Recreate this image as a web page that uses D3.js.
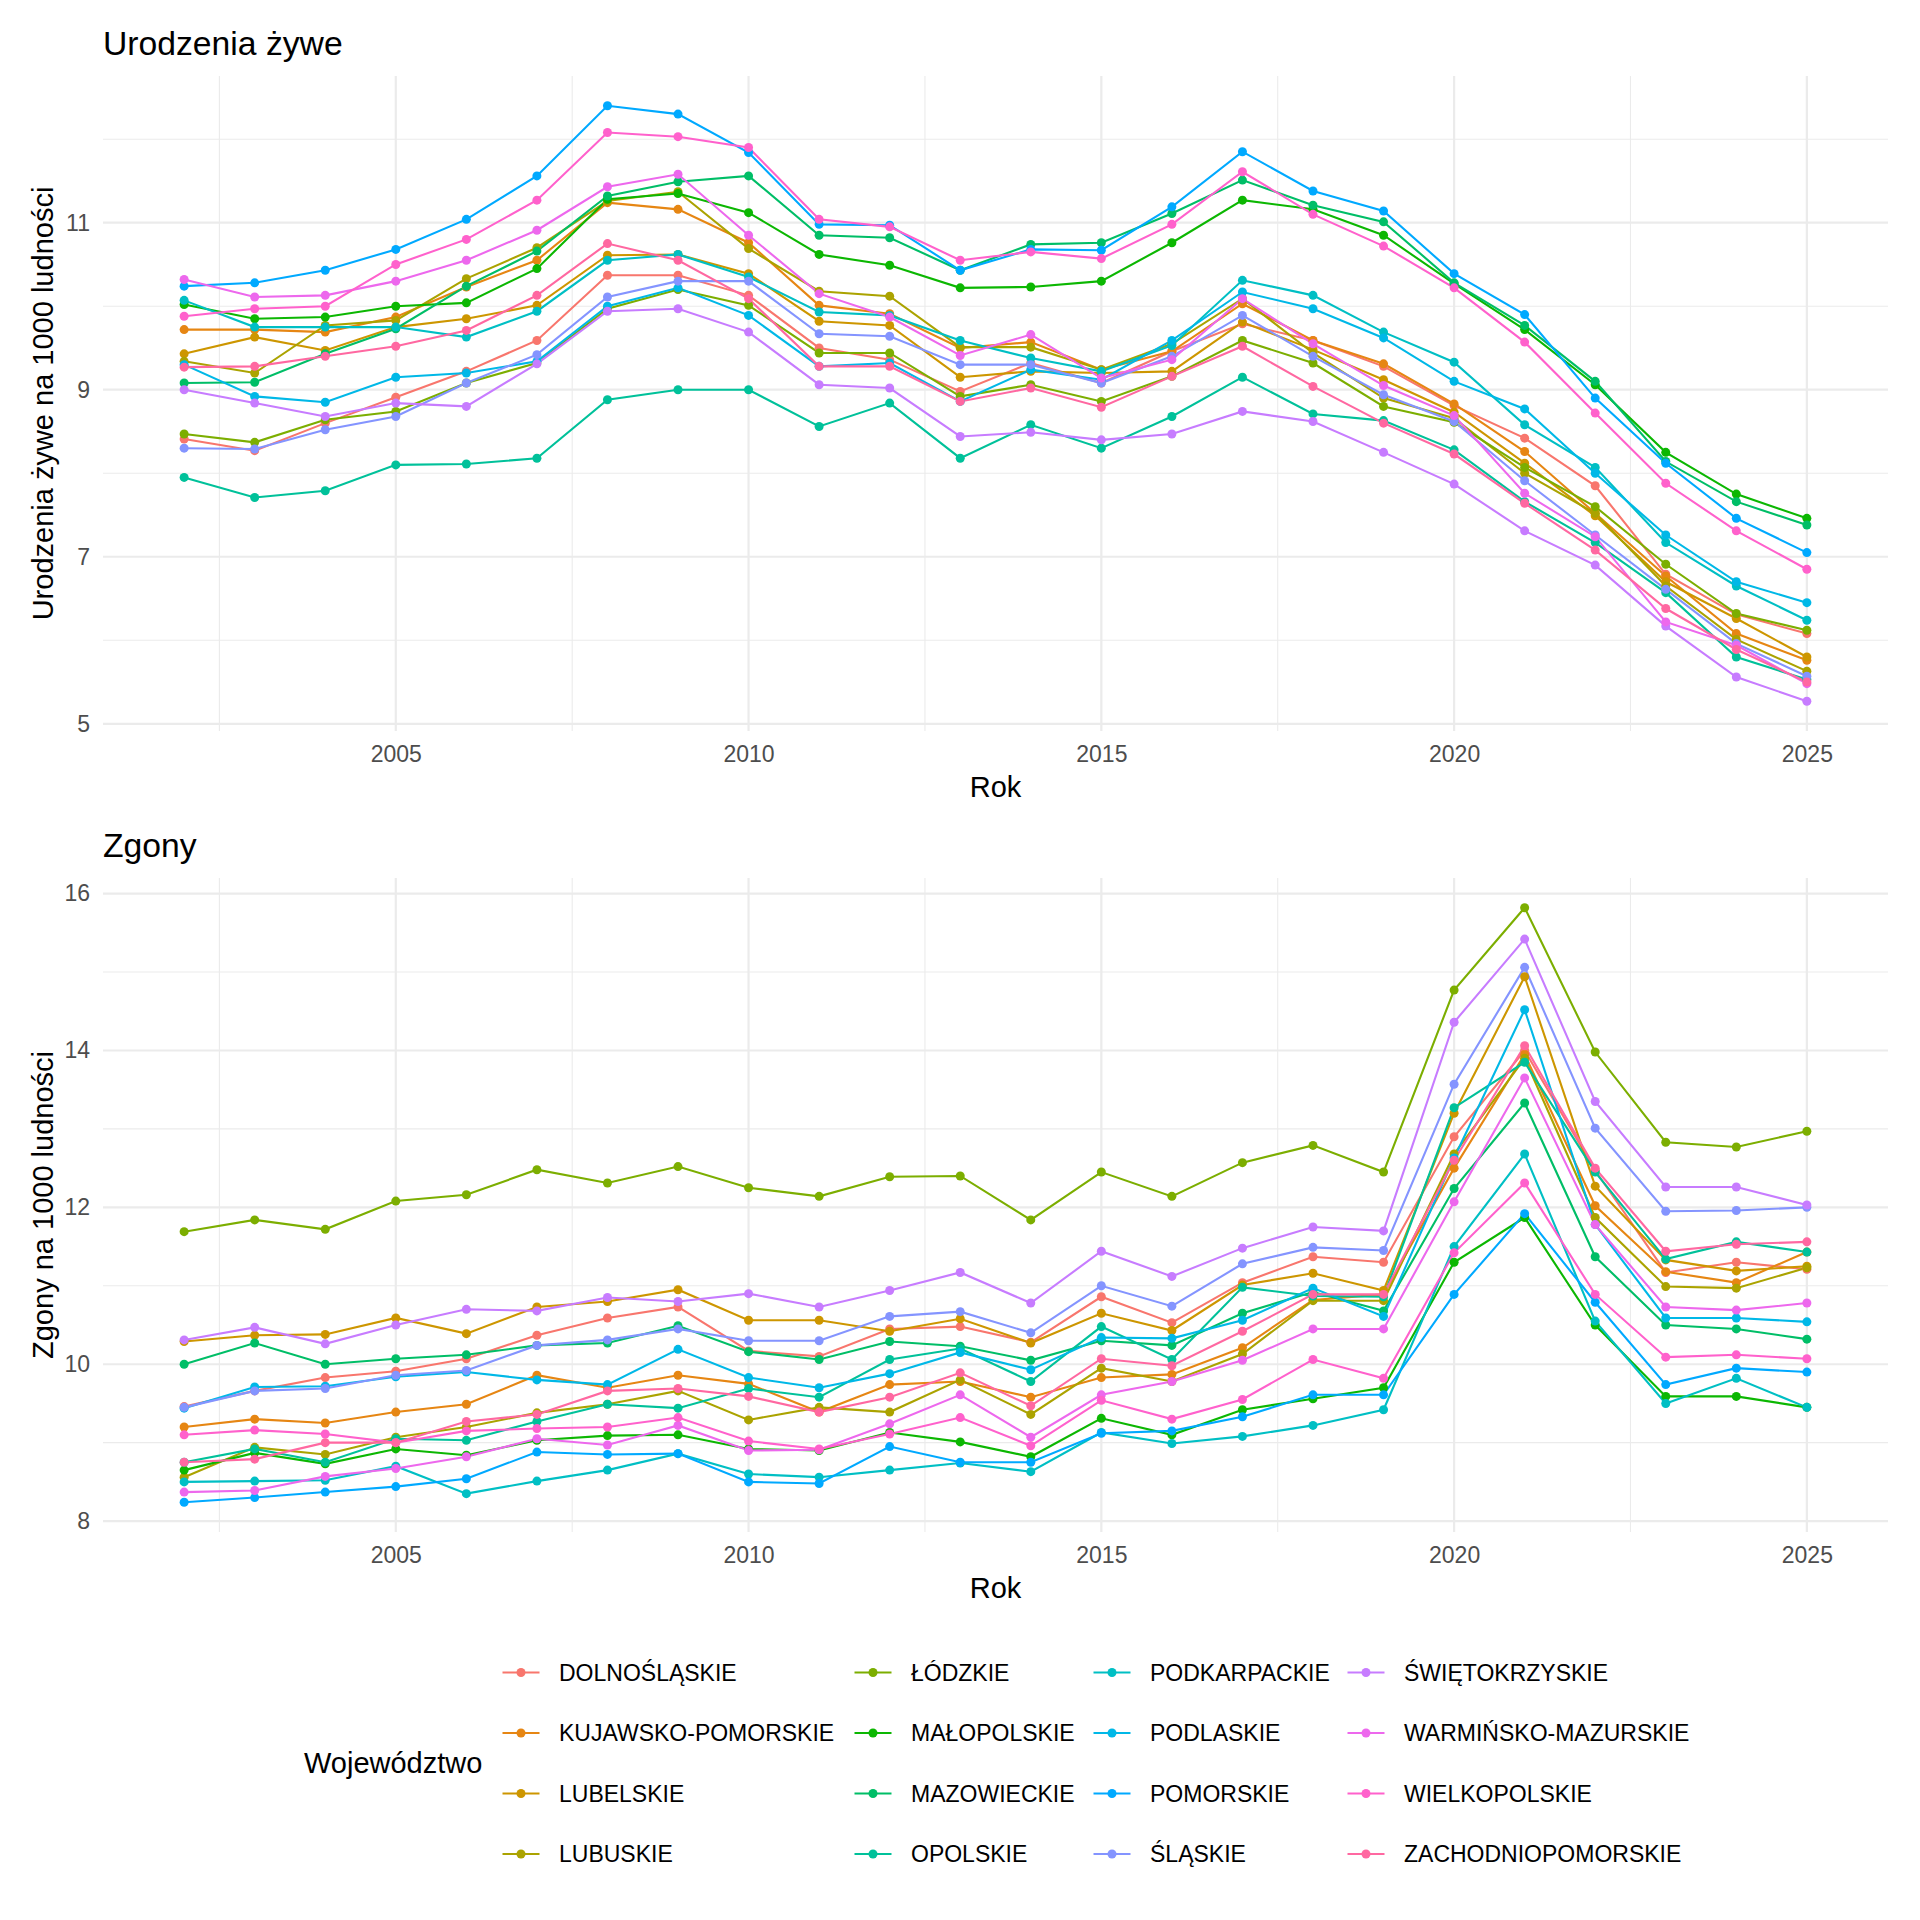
<!DOCTYPE html>
<html>
<head>
<meta charset="utf-8">
<script src="https://cdn.jsdelivr.net/npm/d3@7"></script>
<style>
  body { margin: 0; background: #fff; }
  svg { display: block; font-family: "Liberation Sans", Arial, sans-serif; }
</style>
</head>
<body>
<svg id="chart" width="1920" height="1920"></svg>
<script>
// ---- data ----
const years = [2002, 2003, 2004, 2005, 2006, 2007, 2008, 2009, 2010, 2011, 2012, 2013,
               2014, 2015, 2016, 2017, 2018, 2019, 2020, 2021, 2022, 2023, 2024, 2025];

const regions = ["DOLNOŚLĄSKIE", "KUJAWSKO-POMORSKIE", "LUBELSKIE", "LUBUSKIE", "ŁÓDZKIE",
  "MAŁOPOLSKIE", "MAZOWIECKIE", "OPOLSKIE", "PODKARPACKIE", "PODLASKIE", "POMORSKIE",
  "ŚLĄSKIE", "ŚWIĘTOKRZYSKIE", "WARMIŃSKO-MAZURSKIE", "WIELKOPOLSKIE", "ZACHODNIOPOMORSKIE"];

// urodzenia żywe na 1000 ludności
const bDolnoslaskie = [8.41, 8.27, 8.60, 8.91, 9.22, 9.59, 10.37, 10.37, 10.13, 9.50, 9.36, 8.98, 9.32, 9.08, 9.46, 9.79, 9.59, 9.28, 8.81, 8.42, 7.85, 6.79, 6.31, 6.08];
const bKujawsko     = [9.72, 9.72, 9.69, 9.87, 10.23, 10.55, 11.24, 11.16, 10.76, 10.01, 9.91, 9.50, 9.57, 9.24, 9.46, 10.03, 9.59, 9.31, 8.83, 8.26, 7.52, 6.77, 6.08, 5.76];
const bLubelskie    = [9.43, 9.63, 9.47, 9.75, 9.85, 10.01, 10.61, 10.62, 10.39, 9.82, 9.77, 9.15, 9.22, 9.20, 9.22, 9.81, 9.48, 9.12, 8.73, 8.12, 7.49, 6.70, 6.26, 5.80];
const bLubuskie     = [9.34, 9.20, 9.77, 9.83, 10.33, 10.70, 11.26, 11.37, 10.69, 10.18, 10.12, 9.51, 9.51, 9.24, 9.55, 10.09, 9.44, 8.90, 8.66, 8.00, 7.52, 6.65, 6.01, 5.63];
const bLodzkie      = [8.47, 8.37, 8.64, 8.74, 9.08, 9.32, 9.97, 10.20, 10.01, 9.44, 9.44, 8.92, 9.06, 8.86, 9.16, 9.59, 9.32, 8.80, 8.61, 8.07, 7.60, 6.91, 6.32, 6.12];
const bMalopolskie  = [10.02, 9.85, 9.87, 10.00, 10.04, 10.45, 11.28, 11.35, 11.12, 10.62, 10.49, 10.22, 10.23, 10.30, 10.76, 11.27, 11.16, 10.85, 10.27, 9.72, 9.06, 8.25, 7.75, 7.46];
const bMazowieckie  = [9.08, 9.09, 9.43, 9.73, 10.24, 10.66, 11.32, 11.49, 11.56, 10.85, 10.82, 10.43, 10.74, 10.76, 11.11, 11.51, 11.21, 11.01, 10.28, 9.77, 9.10, 8.14, 7.66, 7.38];
const bOpolskie     = [7.95, 7.71, 7.79, 8.10, 8.11, 8.18, 8.88, 9.00, 9.00, 8.56, 8.84, 8.18, 8.58, 8.30, 8.68, 9.15, 8.71, 8.63, 8.28, 7.66, 7.17, 6.57, 5.80, 5.53];
const bPodkarpackie = [10.07, 9.75, 9.75, 9.75, 9.63, 9.94, 10.55, 10.62, 10.35, 9.93, 9.89, 9.59, 9.38, 9.22, 9.53, 10.31, 10.13, 9.69, 9.33, 8.58, 8.07, 7.17, 6.65, 6.24];
const bPodlaskie    = [9.30, 8.92, 8.85, 9.15, 9.20, 9.34, 10.00, 10.22, 9.89, 9.28, 9.32, 8.86, 9.24, 9.12, 9.59, 10.17, 9.97, 9.62, 9.10, 8.77, 8.00, 7.26, 6.70, 6.45];
const bPomorskie    = [10.24, 10.28, 10.43, 10.68, 11.04, 11.56, 12.40, 12.30, 11.84, 10.98, 10.97, 10.43, 10.68, 10.67, 11.19, 11.85, 11.38, 11.14, 10.39, 9.90, 8.90, 8.12, 7.46, 7.05];
const bSlaskie      = [8.30, 8.29, 8.52, 8.68, 9.08, 9.42, 10.11, 10.30, 10.30, 9.67, 9.64, 9.30, 9.30, 9.08, 9.40, 9.89, 9.40, 8.94, 8.62, 7.91, 7.26, 6.61, 5.96, 5.57];
const bSwietokrz    = [9.00, 8.84, 8.68, 8.84, 8.80, 9.31, 9.94, 9.97, 9.69, 9.06, 9.02, 8.44, 8.49, 8.40, 8.47, 8.74, 8.62, 8.25, 7.87, 7.31, 6.90, 6.17, 5.56, 5.27];
const bWarminsko    = [10.32, 10.11, 10.13, 10.30, 10.55, 10.91, 11.43, 11.58, 10.85, 10.15, 9.87, 9.41, 9.66, 9.14, 9.36, 10.09, 9.55, 9.05, 8.69, 7.76, 7.24, 6.22, 5.94, 5.48];
const bWielkopol    = [9.88, 9.97, 10.00, 10.50, 10.80, 11.27, 12.08, 12.03, 11.90, 11.04, 10.95, 10.55, 10.65, 10.57, 10.98, 11.61, 11.10, 10.72, 10.22, 9.57, 8.72, 7.88, 7.31, 6.85];
const bZachodnio    = [9.27, 9.28, 9.40, 9.52, 9.71, 10.13, 10.75, 10.55, 10.09, 9.28, 9.28, 8.86, 9.02, 8.79, 9.16, 9.52, 9.04, 8.60, 8.23, 7.64, 7.08, 6.38, 5.89, 5.50];

// zgony na 1000 ludności
const dDolnoslaskie = [9.46, 9.66, 9.83, 9.91, 10.07, 10.37, 10.59, 10.73, 10.17, 10.10, 10.45, 10.48, 10.28, 10.86, 10.53, 11.04, 11.37, 11.30, 12.90, 14.00, 12.47, 11.17, 11.30, 11.21];
const dKujawsko     = [9.20, 9.30, 9.25, 9.39, 9.49, 9.86, 9.70, 9.86, 9.75, 9.39, 9.74, 9.78, 9.58, 9.83, 9.87, 10.21, 10.82, 10.89, 12.50, 13.95, 12.02, 11.18, 11.04, 11.43];
const dLubelskie    = [10.29, 10.37, 10.38, 10.59, 10.39, 10.73, 10.80, 10.95, 10.56, 10.56, 10.42, 10.58, 10.27, 10.65, 10.43, 11.01, 11.16, 10.94, 13.20, 14.94, 12.27, 11.33, 11.19, 11.25];
const dLubuskie     = [8.56, 8.94, 8.85, 9.07, 9.20, 9.38, 9.49, 9.66, 9.29, 9.45, 9.39, 9.80, 9.36, 9.95, 9.78, 10.13, 10.81, 10.81, 12.68, 13.90, 11.87, 10.99, 10.97, 11.23];
const dLodzkie      = [11.69, 11.84, 11.72, 12.08, 12.16, 12.48, 12.31, 12.52, 12.25, 12.14, 12.39, 12.40, 11.84, 12.45, 12.14, 12.57, 12.79, 12.45, 14.77, 15.82, 13.98, 12.83, 12.77, 12.97];
const dMalopolskie  = [8.65, 8.87, 8.73, 8.92, 8.84, 9.03, 9.09, 9.10, 8.92, 8.90, 9.13, 9.01, 8.82, 9.31, 9.10, 9.42, 9.56, 9.70, 11.30, 11.87, 10.50, 9.59, 9.59, 9.45];
const dMazowieckie  = [10.00, 10.27, 10.00, 10.07, 10.12, 10.24, 10.27, 10.49, 10.16, 10.06, 10.29, 10.23, 10.05, 10.30, 10.24, 10.65, 10.92, 10.68, 12.24, 13.33, 11.37, 10.50, 10.45, 10.32];
const dOpolskie     = [8.75, 8.92, 8.75, 9.05, 9.03, 9.27, 9.49, 9.44, 9.69, 9.58, 10.06, 10.20, 9.78, 10.48, 10.06, 10.98, 10.87, 10.86, 13.27, 13.85, 12.45, 11.34, 11.56, 11.43];
const dPodkarpackie = [8.50, 8.51, 8.52, 8.70, 8.35, 8.51, 8.65, 8.86, 8.60, 8.56, 8.65, 8.74, 8.63, 9.13, 8.99, 9.08, 9.22, 9.42, 11.50, 12.68, 10.55, 9.50, 9.82, 9.45];
const dPodlaskie    = [9.44, 9.71, 9.72, 9.84, 9.90, 9.80, 9.74, 10.19, 9.83, 9.70, 9.88, 10.15, 9.93, 10.34, 10.33, 10.56, 10.97, 10.61, 12.63, 14.52, 11.78, 10.59, 10.59, 10.54];
const dPomorskie    = [8.24, 8.30, 8.37, 8.44, 8.54, 8.88, 8.85, 8.86, 8.50, 8.48, 8.95, 8.75, 8.75, 9.12, 9.15, 9.33, 9.61, 9.61, 10.89, 11.92, 10.79, 9.74, 9.95, 9.90];
const dSlaskie      = [9.45, 9.66, 9.69, 9.86, 9.92, 10.24, 10.31, 10.45, 10.30, 10.30, 10.61, 10.67, 10.40, 11.00, 10.74, 11.28, 11.49, 11.45, 13.57, 15.06, 13.01, 11.95, 11.96, 12.00];
const dSwietokrz    = [10.31, 10.47, 10.26, 10.50, 10.70, 10.68, 10.85, 10.80, 10.90, 10.73, 10.94, 11.17, 10.78, 11.44, 11.12, 11.48, 11.75, 11.70, 14.36, 15.42, 13.35, 12.26, 12.26, 12.03];
const dWarminsko    = [8.37, 8.39, 8.57, 8.67, 8.82, 9.05, 8.97, 9.22, 8.90, 8.91, 9.24, 9.61, 9.07, 9.61, 9.78, 10.05, 10.45, 10.45, 12.07, 13.65, 11.78, 10.73, 10.69, 10.78];
const dWielkopol    = [9.10, 9.16, 9.11, 9.00, 9.15, 9.18, 9.20, 9.32, 9.02, 8.92, 9.11, 9.32, 8.96, 9.54, 9.30, 9.55, 10.06, 9.82, 11.42, 12.31, 10.89, 10.09, 10.12, 10.07];
const dZachodnio    = [8.75, 8.79, 9.00, 9.00, 9.27, 9.36, 9.66, 9.69, 9.59, 9.39, 9.58, 9.89, 9.47, 10.07, 9.98, 10.42, 10.89, 10.89, 12.60, 14.06, 12.50, 11.44, 11.53, 11.56];

const births = [bDolnoslaskie, bKujawsko, bLubelskie, bLubuskie, bLodzkie, bMalopolskie,
  bMazowieckie, bOpolskie, bPodkarpackie, bPodlaskie, bPomorskie, bSlaskie, bSwietokrz,
  bWarminsko, bWielkopol, bZachodnio];
const deaths = [dDolnoslaskie, dKujawsko, dLubelskie, dLubuskie, dLodzkie, dMalopolskie,
  dMazowieckie, dOpolskie, dPodkarpackie, dPodlaskie, dPomorskie, dSlaskie, dSwietokrz,
  dWarminsko, dWielkopol, dZachodnio];

// tick labels
const xMajor = [2005, 2010, 2015, 2020, 2025];
const xMinor = [2002.5, 2007.5, 2012.5, 2017.5, 2022.5];
const birthsMajor = [5, 7, 9, 11];
const birthsMinor = [6, 8, 10, 12];
const deathsMajor = [8, 10, 12, 14, 16];
const deathsMinor = [9, 11, 13, 15];

// ggplot hue palette, 16 levels
const palette = ["#F8766D", "#E68613", "#CD9600", "#ABA300", "#7CAE00", "#0CB702", "#00BE67",
  "#00C19A", "#00BFC4", "#00B8E7", "#00A9FF", "#8494FF", "#C77CFF", "#ED68ED", "#FF61CC", "#FF68A1"];

// ---- drawing ----
const svg = d3.select("#chart");
const left = 103, right = 1888;
const textColor = "#4D4D4D";
const gridColor = "#EBEBEB";

const color = d3.scaleOrdinal().domain(regions).range(palette);

// ggplot-like 5% expansion
function expanded(lo, hi) {
  let pad = (hi - lo) * 0.05;
  return [lo - pad, hi + pad];
}

let xScale = d3.scaleLinear()
  .domain(expanded(d3.min(years), d3.max(years)))
  .range([left, right]);

function drawPanel(title, yLabel, series, major, minor, top, bottom) {
  let all = series.flat();
  let yScale = d3.scaleLinear()
    .domain(expanded(d3.min(all), d3.max(all)))
    .range([bottom, top]);

  let g = svg.append("g");

  // grid
  g.selectAll(".ygm").data(minor).enter().append("line")
    .attr("x1", left).attr("x2", right)
    .attr("y1", d => yScale(d)).attr("y2", d => yScale(d))
    .style("stroke", gridColor).style("stroke-width", 1.1);
  g.selectAll(".xgm").data(xMinor).enter().append("line")
    .attr("x1", d => xScale(d)).attr("x2", d => xScale(d))
    .attr("y1", top).attr("y2", bottom)
    .style("stroke", gridColor).style("stroke-width", 1.1);
  g.selectAll(".ygM").data(major).enter().append("line")
    .attr("x1", left).attr("x2", right)
    .attr("y1", d => yScale(d)).attr("y2", d => yScale(d))
    .style("stroke", gridColor).style("stroke-width", 2.2);
  g.selectAll(".xgM").data(xMajor).enter().append("line")
    .attr("x1", d => xScale(d)).attr("x2", d => xScale(d))
    .attr("y1", top).attr("y2", bottom)
    .style("stroke", gridColor).style("stroke-width", 2.2);

  // axes (labels only)
  let yAxis = g.append("g")
    .attr("transform", `translate(${left},0)`)
    .call(d3.axisLeft(yScale).tickValues(major).tickSize(0).tickPadding(13).tickFormat(d3.format("d")));
  let xAxis = g.append("g")
    .attr("transform", `translate(0,${bottom})`)
    .call(d3.axisBottom(xScale).tickValues(xMajor).tickSize(0).tickPadding(15).tickFormat(d3.format("d")));
  [yAxis, xAxis].forEach(a => {
    a.select(".domain").remove();
    a.selectAll("text")
      .style("font-family", "Liberation Sans, Arial, sans-serif")
      .style("font-size", "23px")
      .style("fill", textColor);
  });

  // lines, then points
  let line = d3.line()
    .x((d, i) => xScale(years[i]))
    .y(d => yScale(d));
  g.selectAll(".series").data(series).enter().append("path")
    .attr("d", d => line(d))
    .style("fill", "none")
    .style("stroke", (d, i) => color(regions[i]))
    .style("stroke-width", 2.1);
  series.forEach((vals, r) => {
    g.selectAll(null).data(vals).enter().append("circle")
      .attr("cx", (d, i) => xScale(years[i]))
      .attr("cy", d => yScale(d))
      .attr("r", 4.5)
      .style("fill", color(regions[r]));
  });

  // titles
  svg.append("text")
    .attr("x", left)
    .attr("y", top - 21)
    .text(title)
    .style("font-size", "33.7px")
    .style("fill", "#000");
  svg.append("text")
    .attr("x", (left + right) / 2)
    .attr("y", bottom + 66)
    .text("Rok")
    .style("text-anchor", "middle")
    .style("font-size", "29px")
    .style("fill", "#000");
  svg.append("text")
    .attr("transform", `translate(53,${(top + bottom) / 2}) rotate(-90)`)
    .text(yLabel)
    .style("text-anchor", "middle")
    .style("font-size", "29px")
    .style("fill", "#000");
}

drawPanel("Urodzenia żywe", "Urodzenia żywe na 1000 ludności", births, birthsMajor, birthsMinor, 76, 731);
drawPanel("Zgony", "Zgony na 1000 ludności", deaths, deathsMajor, deathsMinor, 878, 1532);

// legend, 4 columns filled column-wise
const legendCols = [521, 873, 1112, 1366];
const legendTop = 1672.5, legendStep = 60.5;

svg.append("text")
  .attr("x", 304)
  .attr("y", legendTop + legendStep * 1.5)
  .attr("dy", "0.35em")
  .text("Województwo")
  .style("font-size", "29px")
  .style("fill", "#000");

let items = svg.selectAll(".legendItem")
  .data(regions)
  .enter()
  .append("g")
    .attr("transform", (d, i) => `translate(${legendCols[Math.floor(i / 4)]},${legendTop + (i % 4) * legendStep})`);
items.append("line")
  .attr("x1", -18.5).attr("x2", 18.5)
  .style("stroke", d => color(d))
  .style("stroke-width", 2.1);
items.append("circle")
  .attr("r", 4.5)
  .style("fill", d => color(d));
items.append("text")
  .attr("x", 38)
  .attr("dy", "0.35em")
  .text(d => d)
  .style("font-size", "23px")
  .style("fill", "#000");
</script>
</body>
</html>
